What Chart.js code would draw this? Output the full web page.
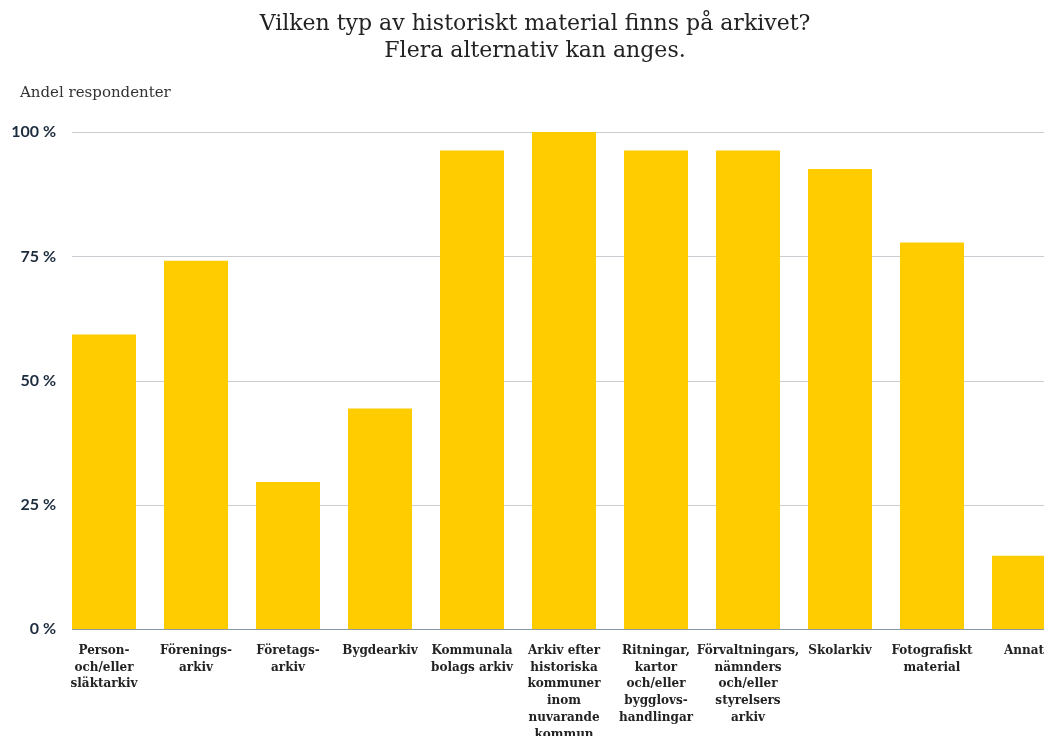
<!DOCTYPE html>
<html>
<head>
<meta charset="utf-8">
<script src="https://cdn.jsdelivr.net/npm/chart.js@4"></script>
<style>
html,body{margin:0;padding:0;background:#fff;overflow:hidden;width:1044px;height:736px;}
canvas{display:block;}
</style>
</head>
<body>
<canvas id="c" width="1072" height="756"></canvas>
<script>
const titleLines = ['Vilken typ av historiskt material finns på arkivet?', 'Flera alternativ kan anges.'];
const axisLabel = 'Andel respondenter';
const categories = [
  ['Person-', 'och/eller', 'släktarkiv'],
  ['Förenings-', 'arkiv'],
  ['Företags-', 'arkiv'],
  ['Bygdearkiv'],
  ['Kommunala', 'bolags arkiv'],
  ['Arkiv efter', 'historiska', 'kommuner', 'inom', 'nuvarande', 'kommun'],
  ['Ritningar,', 'kartor', 'och/eller', 'bygglovs-', 'handlingar'],
  ['Förvaltningars,', 'nämnders', 'och/eller', 'styrelsers', 'arkiv'],
  ['Skolarkiv'],
  ['Fotografiskt', 'material'],
  ['Annat']
];
const shares = [59.3, 74.1, 29.6, 44.4, 96.3, 100, 96.3, 96.3, 92.6, 77.8, 14.8];
const yTicks = [0, 25, 50, 75, 100];

const gridPlugin = {
  id: 'gridPlugin',
  beforeDatasetsDraw(chart) {
    const ctx = chart.ctx;
    const y = chart.scales.y;
    const bar0 = chart.getDatasetMeta(0).data[0];
    const x0 = bar0.x - bar0.width / 2;
    const x1 = chart.chartArea.right;
    ctx.save();
    yTicks.forEach(v => {
      const py = Math.round(y.getPixelForValue(v)) + 0.5;
      ctx.strokeStyle = v === 0 ? '#8797aa' : '#c9cdd2';
      ctx.lineWidth = 1;
      ctx.beginPath();
      ctx.moveTo(x0, py);
      ctx.lineTo(x1, py);
      ctx.stroke();
    });
    ctx.restore();
  },
  afterDraw(chart) {
    const ctx = chart.ctx;
    ctx.save();
    ctx.font = '15px "DejaVu Serif"';
    ctx.fillStyle = '#333';
    ctx.textBaseline = 'middle';
    ctx.textAlign = 'left';
    ctx.fillText(axisLabel, 20, 93);
    ctx.restore();
  }
};

new Chart(document.getElementById('c'), {
  type: 'bar',
  data: {
    labels: categories,
    datasets: [{
      data: shares,
      backgroundColor: '#FFCC00',
      borderWidth: 0,
      categoryPercentage: 1,
      barPercentage: 0.696
    }]
  },
  options: {
    responsive: false,
    animation: false,
    layout: { padding: { left: 0, right: 2, top: 0, bottom: 0 } },
    plugins: {
      legend: { display: false },
      tooltip: { enabled: false },
      title: {
        display: true,
        text: titleLines,
        color: '#222',
        font: { family: '"DejaVu Serif"', size: 22, weight: 'normal', lineHeight: 1.23 },
        padding: { top: 11, bottom: 67 }
      }
    },
    scales: {
      x: {
        offset: true,
        grid: { display: false, drawTicks: false },
        border: { display: false },
        ticks: {
          autoSkip: false,
          maxRotation: 0,
          minRotation: 0,
          padding: 13,
          color: '#222',
          font: { family: '"DejaVu Serif"', size: 12, weight: 'bold', lineHeight: 1.4 }
        }
      },
      y: {
        min: 0,
        max: 100,
        afterFit(scale) { scale.width = 58; },
        grid: { display: false, drawTicks: false },
        border: { display: false },
        ticks: {
          stepSize: 25,
          padding: 2,
          color: '#1c2b3d',
          font: { family: 'Lato', size: 16, weight: 'bold' },
          callback: v => v + ' %'
        }
      }
    }
  },
  plugins: [gridPlugin]
});
</script>
</body>
</html>
